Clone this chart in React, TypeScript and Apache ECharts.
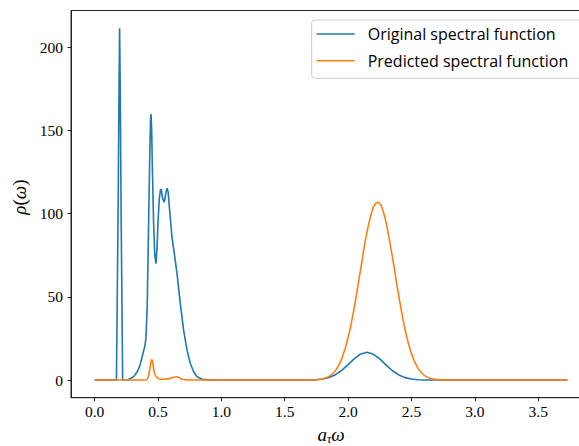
import React, { useEffect, useRef } from "react";
import * as echarts from "echarts";

// x positions (a_tau * omega) and rho(omega) values
const originalSpectral: [number, number][] = [
  [0.0, 0], [0.1, 0], [0.16, 0], [0.172, 0], [0.185, 100], [0.192, 170], [0.197, 211.5],
  [0.202, 175], [0.209, 100], [0.221, 0], [0.24, 0], [0.26, 0.2], [0.28, 0.8],
  [0.31, 2.2], [0.34, 5.5], [0.36, 9.5], [0.38, 15.5], [0.395, 20], [0.405, 25],
  [0.415, 45], [0.425, 90], [0.435, 135], [0.441, 156], [0.445, 160], [0.45, 150],
  [0.457, 122], [0.465, 95], [0.474, 76], [0.484, 70], [0.492, 79], [0.5, 95],
  [0.51, 109], [0.52, 114.5], [0.526, 114.5], [0.537, 109], [0.55, 107], [0.563, 113],
  [0.572, 115.3], [0.58, 113], [0.592, 102], [0.61, 86], [0.629, 76], [0.65, 64],
  [0.676, 46], [0.702, 30], [0.729, 18], [0.755, 10], [0.781, 5], [0.808, 2],
  [0.85, 0.5], [0.9, 0.1], [0.95, 0], [1.6, 0], [1.7, 0.08], [1.75, 0.25], [1.8, 0.66],
  [1.85, 1.57], [1.9, 3.25], [1.95, 5.88], [2.0, 9.32], [2.05, 12.9], [2.1, 15.7],
  [2.15, 16.7], [2.2, 15.5], [2.25, 12.7], [2.3, 9.0], [2.35, 5.6], [2.4, 3.08],
  [2.45, 1.47], [2.5, 0.62], [2.55, 0.23], [2.6, 0.07], [2.65, 0.02], [2.75, 0], [3.73, 0],
];

const predictedSpectral: [number, number][] = [
  [0.0, 0], [0.2, 0], [0.4, 0], [0.418, 0.8], [0.434, 6], [0.445, 11], [0.452, 12.4],
  [0.46, 10], [0.471, 4.6], [0.487, 2], [0.518, 0.5], [0.56, 0.6], [0.597, 1],
  [0.62, 1.6], [0.644, 2], [0.665, 1.5], [0.68, 0.8], [0.7, 0.3], [0.75, 0.05],
  [0.8, 0], [1.6, 0], [1.7, 0.06], [1.75, 0.22], [1.8, 0.74], [1.85, 2.19], [1.9, 5.68],
  [1.95, 12.9], [2.0, 25.5], [2.05, 44.2], [2.1, 67.2], [2.15, 89.4], [2.2, 104.0],
  [2.232, 106.9], [2.26, 105.0], [2.3, 94.5], [2.35, 73.8], [2.4, 50.4], [2.45, 30.1],
  [2.5, 15.8], [2.55, 7.2], [2.6, 2.9], [2.65, 1.0], [2.7, 0.31], [2.75, 0.08],
  [2.8, 0], [3.73, 0],
];

const xTicks = [0, 0.5, 1, 1.5, 2, 2.5, 3, 3.5];
const yTicks = [0, 50, 100, 150, 200];
const seriesNames = ["Original spectral function", "Predicted spectral function"];
const colors = ["#1f77b4", "#ff7f0e"];

const serif = "'Liberation Serif', 'DejaVu Serif', serif";

export default function App() {
  const ref = useRef<HTMLDivElement>(null);
  useEffect(() => {
    if (!ref.current) return;
    const chart = echarts.init(ref.current, null, { renderer: "svg" });
    chart.setOption({
      animation: false,
      backgroundColor: "#fff",
      grid: {
        left: 71,
        right: 9,
        top: 10.5,
        bottom: 48.3,
        outerBoundsMode: "none",
        containLabel: false,
        show: true,
        borderColor: "#222",
        borderWidth: 1,
        backgroundColor: "transparent",
      },
      graphic: [
        {
          type: "rect",
          z: 50,
          shape: { x: 311.7, y: 20, width: 285, height: 58.3, r: 3 },
          style: { fill: "rgba(255,255,255,0.8)", stroke: "#cccccc", lineWidth: 1 },
        },
      ],
      legend: {
        orient: "vertical",
        left: 311.7,
        top: 20,
        z: 60,
        data: seriesNames,
        icon: "rect",
        itemWidth: 38,
        itemHeight: 1.6,
        itemGap: 10.7,
        textStyle: {
          fontFamily: "'Open Sans', sans-serif",
          fontSize: 16,
          color: "#000",
          padding: [0, 0, 0, 8],
        },
        backgroundColor: "transparent",
        borderWidth: 0,
        padding: [6, 10, 8, 5],
      },
      xAxis: {
        type: "value",
        min: -0.1865,
        max: 3.9165,
        splitLine: { show: false },
        axisLine: { show: true, onZero: false, lineStyle: { color: "#222", width: 1 } },
        axisTick: {
          show: true,
          length: 3.5,
          customValues: xTicks,
          lineStyle: { color: "#222", width: 1 },
        },
        axisLabel: {
          customValues: xTicks,
          formatter: (v: number) => v.toFixed(1),
          fontFamily: serif,
          fontSize: 15.5,
          color: "#000",
          margin: 6,
        },
        name: "{a|a}{s|τ}{w|ω}",
        nameLocation: "middle",
        nameGap: 24,
        nameTextStyle: {
          rich: {
            a: { fontFamily: serif, fontStyle: "italic", fontSize: 19, color: "#000" },
            s: {
              fontFamily: serif,
              fontStyle: "italic",
              fontSize: 12,
              color: "#000",
              verticalAlign: "bottom",
              padding: [9, 0, 0, 0],
            },
            w: { fontFamily: serif, fontStyle: "italic", fontSize: 19, color: "#000" },
          },
        },
      },
      yAxis: {
        type: "value",
        min: -10.6,
        max: 222.2,
        splitLine: { show: false },
        axisLine: { show: true, onZero: false, lineStyle: { color: "#222", width: 1 } },
        axisTick: {
          show: true,
          length: 3.5,
          customValues: yTicks,
          lineStyle: { color: "#222", width: 1 },
        },
        axisLabel: {
          customValues: yTicks,
          fontFamily: serif,
          fontSize: 15.5,
          color: "#000",
          margin: 8,
        },
        name: "{i|ρ}{n|(}{i|ω}{n|)}",
        nameLocation: "middle",
        nameGap: 31,
        nameRotate: 90,
        nameTextStyle: {
          padding: [0, 0, 0, 14],
          rich: {
            i: { fontFamily: serif, fontStyle: "italic", fontSize: 19, color: "#000" },
            n: { fontFamily: serif, fontSize: 19, color: "#000" },
          },
        },
      },
      series: [
        {
          name: seriesNames[0],
          type: "line",
          data: originalSpectral,
          showSymbol: false,
          symbol: "none",
          lineStyle: { color: colors[0], width: 1.6 },
          itemStyle: { color: colors[0] },
          z: 2,
        },
        {
          name: seriesNames[1],
          type: "line",
          data: predictedSpectral,
          showSymbol: false,
          symbol: "none",
          smooth: 0.3,
          lineStyle: { color: colors[1], width: 1.6 },
          itemStyle: { color: colors[1] },
          z: 3,
        },
      ],
    });
    return () => chart.dispose();
  }, []);
  return (
    <div style={{ position: "absolute", left: 0, top: 0, width: 579, height: 446, overflow: "hidden" }}>
      <div ref={ref} style={{ width: 600, height: 446 }} />
    </div>
  );
}
